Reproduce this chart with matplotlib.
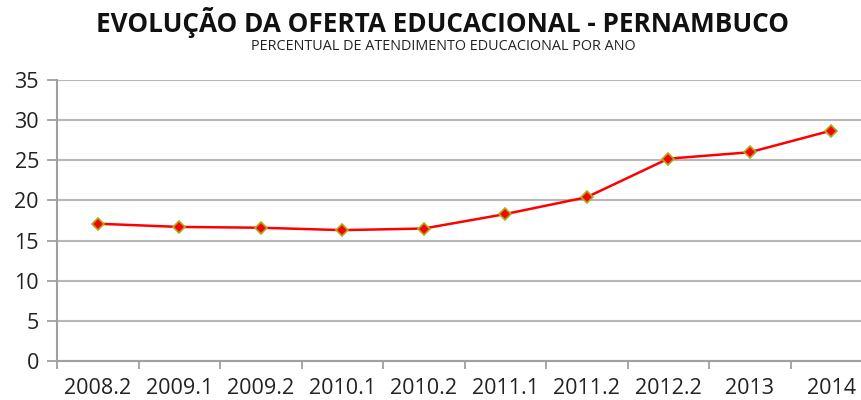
import matplotlib
matplotlib.use("Agg")
import matplotlib.pyplot as plt
import numpy as np

categories = ["2008.2", "2009.1", "2009.2", "2010.1", "2010.2", "2011.1", "2011.2", "2012.2", "2013", "2014"]
values = [17.1, 16.7, 16.6, 16.3, 16.5, 18.3, 20.4, 25.2, 26.0, 28.7]

plt.rcParams['font.family'] = ['Open Sans', 'DejaVu Sans']

fig = plt.figure(figsize=(8.62, 4.0), dpi=100)
ax = fig.add_axes([57/862, 1-361/400, 815/862, 281/400])

x = np.arange(len(categories))
ax.plot(x, values, color='#ff0000', lw=1.8, marker='D', markersize=6,
        markerfacecolor='#ff0000', markeredgecolor='#a8b020', markeredgewidth=1.2, zorder=3)

ax.set_xlim(-0.5, len(categories) - 0.5)
ax.set_ylim(0, 35)
ax.set_yticks(np.arange(0, 36, 5))
ax.yaxis.grid(True, color='#b8b8b8', lw=1.5)
ax.set_axisbelow(True)

ax.set_xticks(x)
ax.set_xticklabels(categories)
ax.set_xticks(np.arange(-0.5, len(categories), 1), minor=True)
ax.tick_params(axis='x', which='major', length=0, pad=12, labelsize=15.5, colors='#222222')
ax.tick_params(axis='x', which='minor', length=6, width=1.3, color='#a0a0a0', direction='out')
ax.tick_params(axis='y', length=7, width=1.3, color='#a0a0a0', labelsize=15.5, pad=6, labelcolor='#222222')

for s in ['top', 'right']:
    ax.spines[s].set_visible(False)
for s in ['left', 'bottom']:
    ax.spines[s].set_color('#a0a0a0')
    ax.spines[s].set_linewidth(1.5)

fig.text(443/862, 1-23/400, "EVOLUÇÃO DA OFERTA EDUCACIONAL - PERNAMBUCO", ha='center', va='center',
         fontsize=18.8, fontweight='bold', color='#111111')
fig.text(443/862, 1-47/400, "PERCENTUAL DE ATENDIMENTO EDUCACIONAL POR ANO", ha='center', va='center',
         fontsize=10.4, color='#222222')

fig.savefig("out.png", dpi=100)
